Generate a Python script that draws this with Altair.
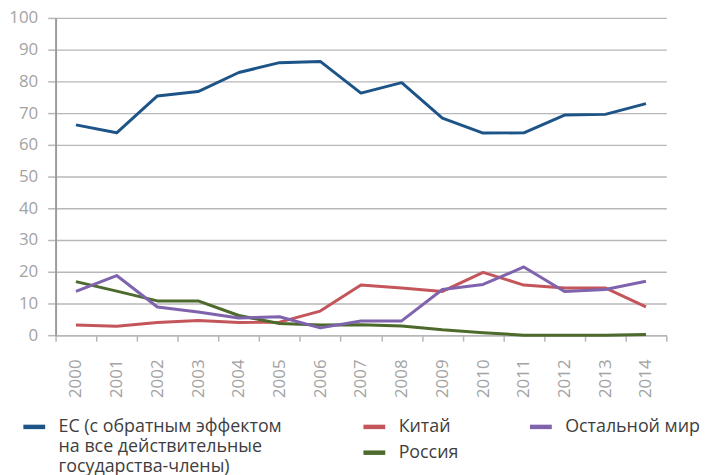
import altair as alt
import pandas as pd

years = [str(y) for y in range(2000, 2015)]
series_names = [
    "ЕС (с обратным эффектом|на все действительные|государства-члены)",
    "Китай",
    "Россия",
    "Остальной мир",
]
eu = [66.3, 63.8, 75.4, 76.8, 82.8, 85.9, 86.3, 76.3, 79.6, 68.4, 63.7, 63.8, 69.4, 69.6, 73.0]
china = [3.2, 2.8, 4.0, 4.6, 4.0, 4.1, 7.6, 15.8, 14.9, 13.8, 19.8, 15.8, 14.9, 14.9, 8.9]
russia = [16.9, 13.9, 10.8, 10.8, 6.2, 3.7, 3.2, 3.3, 2.9, 1.7, 0.8, 0.0, 0.0, 0.0, 0.2]
other = [13.8, 18.8, 8.9, 7.3, 5.4, 5.8, 2.3, 4.5, 4.5, 14.4, 16.0, 21.5, 13.8, 14.4, 17.0]
colors = ["#1d5488", "#c4555a", "#4b6a2b", "#7f63ad"]
y_ticks = list(range(0, 101, 10))

values = [eu, china, russia, other]
rows = []
for name, vals in zip(series_names, values):
    for yr, v in zip(years, vals):
        rows.append({"year": yr, "series": name, "value": v})
df = pd.DataFrame(rows)

FONT = "Open Sans"
LABEL_GRAY = "#a3a3a3"
GRID = "#b7b7b7"

x_enc = alt.X(
    "year:O",
    sort=years,
    bandPosition=0.5,
    scale=alt.Scale(type="band", paddingInner=0, paddingOuter=0),
    axis=alt.Axis(
        title=None,
        labelAngle=270,
        labelAlign="right",
        labelBaseline="middle",
        labelPadding=18,
        labelFontSize=17,
        labelFont=FONT,
        labelColor=LABEL_GRAY,
        tickBand="extent",
        tickSize=6,
        tickColor=GRID,
        tickWidth=1.5,
        domainColor=GRID,
        domainWidth=1.5,
        grid=False,
    ),
)
y_enc = alt.Y(
    "value:Q",
    scale=alt.Scale(domain=[0, 100], nice=False),
    axis=alt.Axis(
        title=None,
        values=y_ticks,
        labelFontSize=17,
        labelFont=FONT,
        labelColor=LABEL_GRAY,
        labelPadding=10,
        tickSize=8,
        tickColor=GRID,
        tickWidth=1.5,
        domainColor="#9c9c9c",
        domainWidth=2,
        grid=True,
        gridColor=GRID,
        gridWidth=1.4,
    ),
)

# legend placement (relative to plot origin)
legend_pos = {
    series_names[0]: (-35, 399),
    series_names[1]: (308, 399),
    series_names[2]: (308, 425),
    series_names[3]: (476, 399),
}

layers = []
for i, (name, col) in enumerate(zip(series_names, colors)):
    lx, ly = legend_pos[name]
    label_expr = "split(datum.label, '|')" if i == 0 else "datum.label"
    layer = (
        alt.Chart(df)
        .transform_filter(alt.datum.series == name)
        .mark_line(strokeWidth=3, strokeJoin="round")
        .encode(
            x=x_enc,
            y=y_enc,
            color=alt.Color(
                "series:N",
                scale=alt.Scale(domain=[name], range=[col]),
                legend=alt.Legend(
                    title=None,
                    orient="none",
                    legendX=lx,
                    legendY=ly,
                    padding=0,
                    symbolType="stroke",
                    symbolStrokeWidth=4.5,
                    symbolSize=484,
                    labelExpr=label_expr,
                    labelFontSize=18,
                    labelFont=FONT,
                    labelColor="#3e3e3e",
                    labelOffset=11,
                    labelLimit=600,
                    labelBaseline="middle",
                ),
            ),
        )
    )
    layers.append(layer)

chart = (
    alt.layer(*layers)
    .resolve_scale(color="independent")
    .properties(
        width=616,
        height=320,
        autosize=alt.AutoSizeParams(type="none"),
        padding={"left": 48, "top": 8, "right": 37, "bottom": 139},
    )
    .configure_view(stroke=None)
)

chart.save("out.html", embed_options={"renderer": "svg", "actions": False})
